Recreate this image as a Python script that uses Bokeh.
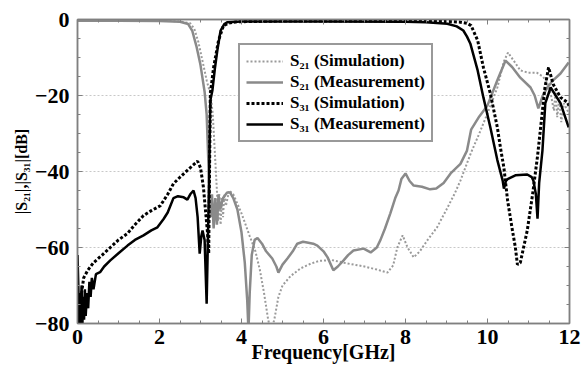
from bokeh.plotting import figure
from bokeh.models import (Range1d, LinearAxis, Legend, LegendItem, FixedTicker,
                          CustomJSTickFormatter)
from bokeh.embed import file_html
from bokeh.resources import INLINE

# ---------------- data ----------------
s21_sim_f = [0.0, 1.0, 2.0, 2.5, 2.75, 2.85, 2.95, 3.05, 3.15, 3.25, 3.3, 3.35, 3.4, 3.43,
             3.46, 3.49, 3.52, 3.55, 3.58, 3.62, 3.7, 3.8, 3.9, 4.0, 4.1, 4.2, 4.34, 4.45,
             4.55, 4.65, 4.72, 4.8, 4.9, 5.0, 5.2, 5.44, 5.7, 5.9, 6.2, 6.58, 7.0, 7.3,
             7.56, 7.7, 7.8, 7.93, 8.05, 8.2, 8.35, 8.54, 8.77, 9.0, 9.2, 9.34, 9.6, 9.8,
             10.0, 10.24, 10.4, 10.5, 10.65, 10.8, 11.0, 11.2, 11.35, 11.46, 11.55, 11.62,
             11.66, 11.7, 11.75, 11.8, 11.86, 12.0]
s21_sim_db = [-0.2, -0.2, -0.3, -0.5, -1.0, -2.5, -6, -11, -16, -20, -25, -35, -45, -53,
              -46, -54, -47, -52, -46, -49, -45, -46, -48.5, -51, -54, -57, -61, -66,
              -72, -79, -82, -79, -73, -70, -67.5, -65.5, -64.2, -63.5, -63.3, -64.2, -65, -65.8,
              -66.6, -64.7, -60, -56.8, -60, -62.6, -61, -58, -54.7, -50, -45.8, -42.4, -35, -30,
              -24.7, -17.9, -11, -8.7, -11, -13.4, -14, -14, -15, -16.6, -20, -24,
              -19, -25.7, -21, -27, -22, -25]

s21_meas_f = [0.0, 1.0, 2.0, 2.5, 2.7, 2.8, 2.9, 3.0, 3.1, 3.15, 3.2, 3.25, 3.28, 3.32,
              3.36, 3.4, 3.44, 3.48, 3.55, 3.65, 3.72, 3.8, 3.9, 4.0, 4.08, 4.14, 4.17, 4.2,
              4.25, 4.32, 4.39, 4.5, 4.6, 4.75, 4.85, 4.9, 5.0, 5.12, 5.25, 5.36, 5.5, 5.6,
              5.75, 5.85, 6.0, 6.1, 6.24, 6.35, 6.49, 6.6, 6.73, 6.98, 7.15, 7.3, 7.39, 7.5,
              7.63, 7.75, 7.83, 7.9, 8.0, 8.1, 8.2, 8.4, 8.6, 8.75, 8.93, 9.1, 9.34, 9.5,
              9.6, 9.8, 10.0, 10.24, 10.44, 10.6, 10.8, 11.05, 11.15, 11.24, 11.35, 11.46,
              11.6, 11.78, 11.98]
s21_meas_db = [-0.3, -0.3, -0.4, -0.6, -1.2, -3, -7, -12, -19, -25, -40, -52, -46, -55,
               -47, -54, -46, -50, -47, -45.5, -45.5, -47, -50, -56, -64, -74, -82, -72,
               -62, -58, -57.5, -59, -61, -62.9, -65, -66.6, -64.5, -62.9, -61, -59, -58.5, -58.7,
               -59, -59.5, -61, -62.6, -66, -65, -63.4, -62, -60.8, -60.3, -61.3, -60, -58, -55,
               -51, -47, -45, -42, -40.5, -42.5, -43.7, -44, -44.7, -44.5, -43, -40.5, -38, -34.5,
               -29, -25.5, -22.6, -16, -10.8, -12.5, -15.3, -17.9, -20, -23.4, -20, -17.9,
               -16, -14.2, -11.3]

s31_sim_f = [0.05, 0.1, 0.15, 0.25, 0.39, 0.6, 0.8, 1.0, 1.22, 1.4, 1.61, 1.8, 2.02, 2.2,
             2.34, 2.5, 2.68, 2.8, 2.93, 3.0, 3.07, 3.12, 3.17, 3.2, 3.22, 3.24, 3.32, 3.44,
             3.56, 3.7, 3.9, 5.0, 7.0, 9.0, 9.34, 9.5, 9.6, 9.76, 9.9, 10.07, 10.24, 10.32,
             10.4, 10.49, 10.6, 10.68, 10.73, 10.8, 10.88, 10.97, 11.1, 11.22, 11.3, 11.4,
             11.49, 11.6, 11.78, 11.95, 12.0]
s31_sim_db = [-80, -72, -68, -66, -64, -62, -60, -58, -56.3, -54, -51.6, -50.3, -49, -46,
              -43.2, -41.5, -39.7, -38.5, -37.3, -39, -44, -50, -56, -61.6, -40, -19.5, -12.6, -5.5,
              -1.6, -0.9, -0.6, -0.4, -0.4, -0.5, -0.7, -1.0, -1.6, -5.5, -12.6, -19.5, -28.4, -34,
              -39, -47.6, -55, -60, -64.5, -64, -60, -55.5, -46, -36, -28, -18,
              -12.6, -17, -20.5, -21.8, -23]

s31_meas_f = [0.0, 0.02, 0.04, 0.06, 0.08, 0.10, 0.12, 0.14, 0.16, 0.18, 0.20, 0.23, 0.26,
              0.29, 0.32, 0.35, 0.39, 0.45, 0.55, 0.65, 0.8, 1.0, 1.22, 1.4, 1.61, 1.8, 1.95,
              2.1, 2.2, 2.34, 2.45, 2.59, 2.68, 2.75, 2.83, 2.88, 2.93, 2.98, 3.02, 3.05, 3.1,
              3.15, 3.2, 3.24, 3.29, 3.35, 3.41, 3.49, 3.58, 3.66, 4.0, 6.0, 8.0, 8.5, 9.02,
              9.25, 9.41, 9.5, 9.58, 9.76, 9.9, 10.07, 10.24, 10.37, 10.4, 10.45, 10.49, 10.68,
              10.97, 11.08, 11.12, 11.18, 11.22, 11.26, 11.34, 11.41, 11.54, 11.78, 11.98]
s31_meas_db = [-62, -70, -80, -72, -80, -70, -80, -73, -79, -71, -78, -72, -76,
               -69, -73, -68, -71, -67, -66.5, -65, -63.4, -61.5, -59.5, -58, -56.8, -55.5, -54.7,
               -52.5, -50.8, -47, -46.5, -46.8, -47.4, -46, -45, -47, -52, -61.6, -57, -55.5, -58,
               -74.8, -47.6, -21.3, -18.7, -13, -8.2, -2.9, -1.2, -0.7, -0.5, -0.5, -0.6, -0.7, -1.1,
               -1.8, -2.9, -4.5, -6.3, -13.4, -20.5, -28.4, -37, -42.4, -44.5, -42.5, -42, -41,
               -40.8, -41.5, -42.4, -46, -52.4, -43, -34.5, -22, -17.9, -22, -28.4]

x_ticks = [0, 2, 4, 6, 8, 10, 12]
y_ticks = [-80, -60, -40, -20, 0]
labels = ["S\u2082\u2081 (Simulation)", "S\u2082\u2081 (Measurement)",
          "S\u2083\u2081 (Simulation)", "S\u2083\u2081 (Measurement)"]

# ---------------- figure ----------------
FONT = "Liberation Serif"
p = figure(width=586, height=367, output_backend="svg", toolbar_location=None,
           x_range=Range1d(0, 12), y_range=Range1d(-80, 0),
           min_border_left=77, min_border_right=17, min_border_top=19, min_border_bottom=44)
p.background_fill_color = "white"
p.border_fill_color = "white"
p.outline_line_color = "#888888"
p.outline_line_width = 1.5

p.xgrid.visible = False
p.ygrid.grid_line_color = "#c8c8c8"
p.ygrid.grid_line_dash = "2 2"
p.ygrid.grid_line_width = 1

def style_axis(ax):
    ax.axis_line_color = "#808080"
    ax.axis_line_width = 1.5
    ax.major_tick_in = 5
    ax.major_tick_out = 0
    ax.minor_tick_in = 3
    ax.minor_tick_out = 0
    ax.major_tick_line_color = "#808080"
    ax.minor_tick_line_color = "#808080"
    ax.major_label_text_font = FONT
    ax.major_label_text_font_style = "bold"
    ax.major_label_text_font_size = "22px"
    ax.major_label_text_color = "black"
    ax.axis_label_text_font = FONT
    ax.axis_label_text_font_style = "bold"
    ax.axis_label_text_color = "black"

xa = p.xaxis[0]
ya = p.yaxis[0]
xa.ticker = FixedTicker(ticks=x_ticks, minor_ticks=[i * 0.5 for i in range(25)])
ya.ticker = FixedTicker(ticks=y_ticks, minor_ticks=[-80 + 5 * i for i in range(17)])
style_axis(xa)
style_axis(ya)
xa.axis_label = "Frequency[GHz]"
xa.axis_label_text_font_size = "20px"
xa.major_label_standoff = 6
xa.axis_label_standoff = -6
ya.axis_label = "|S\u2082\u2081|,|S\u2083\u2081|[dB]"
ya.axis_label_text_font_size = "16px"
ya.major_label_standoff = 8
ya.axis_label_standoff = 2

blank = CustomJSTickFormatter(code="return ''")
top = LinearAxis(ticker=FixedTicker(ticks=x_ticks, minor_ticks=[i * 0.5 for i in range(25)]),
                 formatter=blank)
right = LinearAxis(ticker=FixedTicker(ticks=y_ticks, minor_ticks=[-80 + 5 * i for i in range(17)]),
                   formatter=blank)
for ax in (top, right):
    style_axis(ax)
    ax.major_label_standoff = 0
p.add_layout(top, "above")
p.add_layout(right, "right")

r1 = p.line(s21_sim_f, s21_sim_db, line_color="#9a9a9a", line_width=2, line_dash="2 2")
r2 = p.line(s21_meas_f, s21_meas_db, line_color="#8a8a8a", line_width=2.5)
r3 = p.line(s31_sim_f, s31_sim_db, line_color="black", line_width=3, line_dash="3 2")
r4 = p.line(s31_meas_f, s31_meas_db, line_color="black", line_width=2.5)

legend = Legend(items=[LegendItem(label=labels[0], renderers=[r1]),
                       LegendItem(label=labels[1], renderers=[r2]),
                       LegendItem(label=labels[2], renderers=[r3]),
                       LegendItem(label=labels[3], renderers=[r4])],
                location=(161, 181))
legend.label_text_font = FONT
legend.label_text_font_style = "bold"
legend.label_text_font_size = "17px"
legend.label_text_color = "black"
legend.glyph_width = 37
legend.glyph_height = 20
legend.label_height = 20
legend.label_standoff = 7
legend.spacing = 1
legend.padding = 6
legend.margin = 0
legend.border_line_color = "#333333"
legend.border_line_width = 2
legend.background_fill_color = "white"
legend.background_fill_alpha = 1
p.add_layout(legend, "center")

open("out.html", "w").write(file_html(p, INLINE))
